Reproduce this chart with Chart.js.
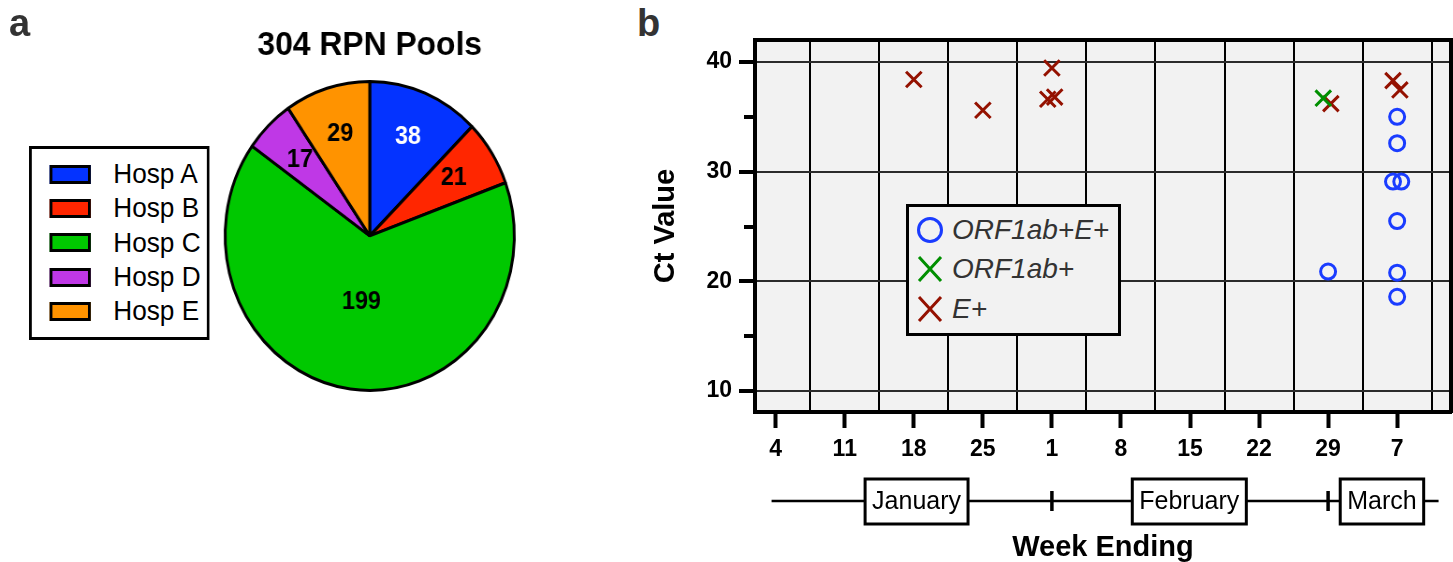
<!DOCTYPE html>
<html>
<head>
<meta charset="utf-8">
<script src="https://cdn.jsdelivr.net/npm/chart.js@4/dist/chart.umd.min.js"></script>
<style>
  body { margin: 0; background: #fff; font-family: "Liberation Sans", Arial, sans-serif; }
  #page { position: relative; width: 1453px; height: 562px; overflow: hidden; }
  .letter { position: absolute; font-weight: bold; font-size: 38px; line-height: 1; color: #333; }
  #pieWrap { position: absolute; left: 0; top: 0; width: 600px; height: 562px; transform: scaleX(0.936); transform-origin: 0 0; }
  #pieLegend { position: absolute; left: 31px; top: 146px; width: 187px; border: 3px solid #000; background: #fff; padding: 8px 0 9px; }
  .pl-row { display: flex; align-items: center; height: 34.3px; font-size: 28px; color: #000; }
  .pl-sw { width: 38px; height: 13px; border: 3px solid #000; margin-left: 19px; margin-right: 24px; }
  #ctCanvas { position: absolute; left: 640px; top: 0; }
  #ctLegend { position: absolute; left: 906px; top: 204px; width: 209px; height: 123px; border: 3px solid #000; background: #f2f2f2; padding-top: 3px; box-sizing: content-box; }
  .cl-row { display: flex; align-items: center; height: 39.5px; font-size: 28px; font-style: italic; color: #333; }
  .cl-row svg { margin-left: 8px; margin-right: 9px; }
</style>
</head>
<body>
<div id="page">
  <div id="pieWrap">
    <canvas id="pieCanvas" width="600" height="562"></canvas>
    <div id="pieLegend"></div>
  </div>
  <div class="letter" style="left:9px; top:4px;">a</div>
  <div class="letter" style="left:637px; top:4px;">b</div>
  <canvas id="ctCanvas" width="813" height="562"></canvas>
  <div id="ctLegend"></div>
</div>
<script>
// panel a: pools per hospital
const hospLabels = ['Hosp A', 'Hosp B', 'Hosp C', 'Hosp D', 'Hosp E'];
const hospPools = [38, 21, 199, 17, 29];

// panel b: Ct values by week ending (x = week index, small offsets as plotted)
const weekLabels = ['4', '11', '18', '25', '1', '8', '15', '22', '29', '7'];
const monthLabels = ['January', 'February', 'March'];
const seriesNames = ['ORF1ab+E+', 'ORF1ab+', 'E+'];
const bothX = [9.0, 9.0, 8.94, 9.06, 9.0, 8.0, 9.0, 9.0];
const bothCt = [35.0, 32.6, 29.1, 29.1, 25.5, 20.9, 20.8, 18.6];
const orfX = [7.93];
const orfCt = [36.7];
const eX = [2.0, 3.0, 4.0, 3.94, 4.04, 8.04, 8.94, 9.04];
const eCt = [38.4, 35.6, 39.45, 36.6, 36.8, 36.2, 38.3, 37.45];
const yTicks = [10, 15, 20, 25, 30, 35, 40];

const FONT = '"Liberation Sans", Arial, sans-serif';
Chart.defaults.font.family = FONT;

const hospColors = ['#0433ff', '#ff2600', '#00c800', '#bf38e6', '#ff9300'];
const sliceTextColors = ['#fff', '#000', '#000', '#000', '#000'];
const seriesColors = ['#1a3cff', '#008f00', '#941100'];

// pie legend (html)
const pieLegend = document.getElementById('pieLegend');
hospLabels.forEach((name, i) => {
  pieLegend.innerHTML += `<div class="pl-row"><span class="pl-sw" style="background:${hospColors[i]}"></span>${name}</div>`;
});

// scatter legend (html)
const ctLegend = document.getElementById('ctLegend');
seriesNames.forEach((name, i) => {
  const mark = i === 0
    ? `<circle cx="13" cy="13" r="11.5" fill="none" stroke="${seriesColors[i]}" stroke-width="3"/>`
    : `<path d="M2 1 L24 25 M24 1 L2 25" stroke="${seriesColors[i]}" stroke-width="3" fill="none"/>`;
  ctLegend.innerHTML += `<div class="cl-row"><svg width="26" height="26">${mark}</svg>${name}</div>`;
});

const sliceLabels = {
  id: 'sliceLabels',
  afterDatasetsDraw(chart) {
    const ctx = chart.ctx;
    const meta = chart.getDatasetMeta(0);
    ctx.save();
    ctx.font = 'bold 25px ' + FONT;
    ctx.textAlign = 'center';
    ctx.textBaseline = 'middle';
    meta.data.forEach((arc, i) => {
      const p = arc.getProps(['x', 'y', 'startAngle', 'endAngle', 'outerRadius'], true);
      const mid = (p.startAngle + p.endAngle) / 2;
      const f = (p.endAngle - p.startAngle) > Math.PI ? 0.43 : 0.69;
      ctx.fillStyle = sliceTextColors[i];
      ctx.fillText(String(hospPools[i]), p.x + Math.cos(mid) * p.outerRadius * f, p.y + Math.sin(mid) * p.outerRadius * f);
    });
    ctx.restore();
  }
};

new Chart(document.getElementById('pieCanvas'), {
  type: 'pie',
  data: {
    labels: hospLabels,
    datasets: [{
      data: hospPools,
      backgroundColor: hospColors,
      borderColor: '#000',
      borderWidth: 3,
      hoverOffset: 0
    }]
  },
  options: {
    responsive: false,
    animation: false,
    devicePixelRatio: 1,
    layout: { padding: { left: 239, right: 49, top: 25, bottom: 170 } },
    plugins: {
      legend: { display: false },
      tooltip: { enabled: false },
      title: {
        display: true,
        text: '304 RPN Pools',
        fullSize: false,
        color: '#000',
        font: { size: 34, weight: 'bold' },
        padding: { top: 0, bottom: 14 }
      }
    }
  },
  plugins: [sliceLabels]
});

const plotBackground = {
  id: 'plotBackground',
  beforeDraw(chart) {
    const { ctx, chartArea: a } = chart;
    ctx.save();
    ctx.fillStyle = '#f2f2f2';
    ctx.fillRect(a.left, a.top, a.width, a.height);
    ctx.restore();
  }
};

// month bracket under the week axis
const monthCenters = [2.04, 5.99, 8.78];
const monthAxis = {
  id: 'monthAxis',
  afterDraw(chart) {
    const x = chart.scales.x;
    const ctx = chart.ctx;
    const y = 501;
    ctx.save();
    ctx.strokeStyle = '#000';
    ctx.lineWidth = 2.5;
    ctx.beginPath();
    ctx.moveTo(x.getPixelForValue(-0.06), y);
    ctx.lineTo(x.getPixelForValue(9.6), y);
    ctx.stroke();
    ctx.lineWidth = 3.5;
    [4, 8].forEach(v => {
      const px = x.getPixelForValue(v);
      ctx.beginPath();
      ctx.moveTo(px, y - 10);
      ctx.lineTo(px, y + 10);
      ctx.stroke();
    });
    ctx.lineWidth = 3;
    ctx.font = '25px ' + FONT;
    ctx.textAlign = 'center';
    ctx.textBaseline = 'middle';
    monthLabels.forEach((m, i) => {
      const cx = x.getPixelForValue(monthCenters[i]);
      const w = ctx.measureText(m).width + 14;
      ctx.fillStyle = '#fff';
      ctx.fillRect(cx - w / 2, y - 22, w, 45);
      ctx.strokeRect(cx - w / 2, y - 22, w, 45);
      ctx.fillStyle = '#000';
      ctx.fillText(m, cx, y + 1);
    });
    ctx.restore();
  }
};

const toPoints = (xs, ys) => xs.map((x, i) => ({ x: x, y: ys[i] }));

new Chart(document.getElementById('ctCanvas'), {
  type: 'scatter',
  data: {
    datasets: [
      { label: seriesNames[0], data: toPoints(bothX, bothCt), pointStyle: 'circle', pointRadius: 7.5, borderWidth: 3, borderColor: seriesColors[0], backgroundColor: 'rgba(0,0,0,0)' },
      { label: seriesNames[1], data: toPoints(orfX, orfCt), pointStyle: 'crossRot', pointRadius: 11, borderWidth: 3, borderColor: seriesColors[1], backgroundColor: seriesColors[1] },
      { label: seriesNames[2], data: toPoints(eX, eCt), pointStyle: 'crossRot', pointRadius: 11, borderWidth: 3, borderColor: seriesColors[2], backgroundColor: seriesColors[2] }
    ]
  },
  options: {
    responsive: false,
    animation: false,
    devicePixelRatio: 1,
    layout: { autoPadding: false, padding: { top: 40, right: 2, left: 0, bottom: 0 } },
    plugins: { legend: { display: false }, tooltip: { enabled: false } },
    scales: {
      x: {
        type: 'linear', position: 'bottom', min: -0.3, max: 9.78,
        afterBuildTicks: s => { s.ticks = weekLabels.map((_, i) => ({ value: i })); },
        afterFit: s => { s.height = 150; },
        ticks: { callback: v => weekLabels[v], font: { size: 23, weight: 'bold' }, color: '#000', padding: 8, maxRotation: 0, autoSkip: false },
        grid: { drawOnChartArea: false, tickLength: 16, tickWidth: 4, tickColor: '#000' },
        border: { width: 4, color: '#000' },
        title: { display: true, text: 'Week Ending', font: { size: 29, weight: 'bold' }, color: '#000', padding: { top: 0, bottom: -3 } }
      },
      xt: {
        type: 'linear', position: 'top', min: -0.3, max: 9.78,
        afterBuildTicks: s => { s.ticks = weekLabels.map((_, i) => ({ value: i + 0.5 })); },
        afterFit: s => { s.height = 0; },
        ticks: { display: false },
        grid: { color: '#000', lineWidth: 2, drawTicks: false },
        border: { width: 4, color: '#000' }
      },
      y: {
        type: 'linear', position: 'left', min: 8.1, max: 42,
        afterBuildTicks: s => { s.ticks = yTicks.map(v => ({ value: v })); },
        afterFit: s => { s.width = 115; },
        ticks: { callback: v => (v % 10 === 0 ? v : ''), font: { size: 23, weight: 'bold' }, color: '#000', padding: 7 },
        grid: {
          color: c => (c.tick && c.tick.value % 10 === 0 ? '#2b2b2b' : 'rgba(0,0,0,0)'),
          lineWidth: 2,
          tickLength: 16,
          tickWidth: 4,
          tickColor: '#000',
          tickBorderDash: c => (c.tick && c.tick.value % 10 !== 0 ? [0, 5, 11, 100] : [])
        },
        border: { width: 4, color: '#000' },
        title: { display: true, text: 'Ct Value', font: { size: 29, weight: 'bold' }, color: '#000', padding: { top: 9, bottom: 0 } }
      },
      yr: {
        type: 'linear', position: 'right', min: 8.1, max: 42,
        afterFit: s => { s.width = 0; },
        ticks: { display: false },
        grid: { display: false },
        border: { width: 4, color: '#000' }
      }
    }
  },
  plugins: [plotBackground, monthAxis]
});
</script>
</body>
</html>
